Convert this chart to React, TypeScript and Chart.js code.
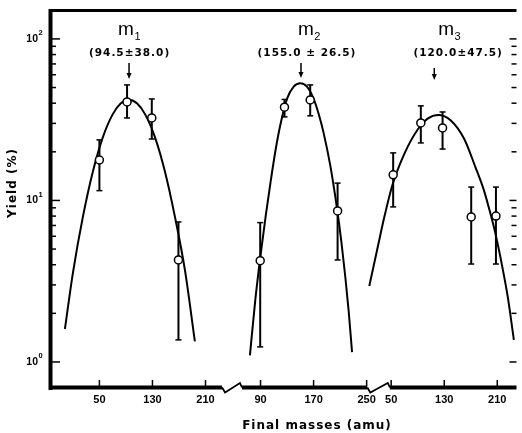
import React, { useEffect, useRef } from "react";
import { Chart, registerables } from "chart.js";

Chart.register(...registerables);

// ---- Broken x axis: three panels placed side by side on one linear scale ----
const panelOffsets = [0, 203, 440];
const panelTickMasses = [
  [50, 130, 210],
  [90, 170, 250],
  [50, 130, 210],
];
const panelAxisRanges = [
  [-100, 235],
  [62, 251],
  [48, 400],
];

// ---- y axis (log) ----
const yMin = 0.69;
const yMax = 151;
const yMajorTicks = [1, 10, 100];
const yMajorExponents = ["0", "1", "2"];
const yMinorTicks = [2, 3, 4, 5, 6, 7, 8, 9, 20, 30, 40, 50, 60, 70, 80, 90];

// ---- Measured yields (mass in amu, yield in %) ----
const m1Mass = [50, 91.7, 129, 169.2];
const m1Yield = [17.8, 40.7, 32.4, 4.28];
const m1Low = [11.5, 32.4, 24.0, 1.37];
const m1High = [23.7, 51.9, 42.5, 7.36];

const m2Mass = [89.5, 126.1, 164.9, 206.2];
const m2Yield = [4.24, 37.8, 41.9, 8.61];
const m2Low = [1.24, 32.9, 33.4, 4.28];
const m2High = [7.29, 42.2, 51.9, 12.8];

const m3Mass = [53, 94.7, 127.5, 170.7, 208];
const m3Yield = [14.4, 30.2, 28.1, 7.9, 8.0];
const m3Low = [9.12, 22.7, 20.8, 4.04, 4.04];
const m3High = [19.7, 38.5, 35.3, 12.1, 12.1];

// ---- Fitted curves ----
const fit1Mass = [-2, 10, 25, 40, 55, 70, 82, 94.5, 107, 119, 134, 149, 164, 179, 194];
const fit1Yield = [1.6, 3.55, 7.88, 15.0, 24.5, 34.1, 39.8, 42, 39.8, 34.1, 24.5, 15.0, 7.88, 3.7, 1.34];

const fit2Mass = [74, 82, 90, 98, 105, 113, 120, 130, 140, 150, 160, 170, 178, 185, 195, 205, 212, 218, 223, 228];
const fit2Yield = [1.1, 2.4, 4.57, 8.13, 12.9, 20.9, 29.5, 42.7, 50.7, 53.2, 50.7, 42.7, 33.9, 26.3, 16.6, 9.12, 5.5, 3.31, 2.04, 1.15];

const fit3Mass = [17, 30, 40, 52, 70, 90, 105, 121, 140, 160, 177, 190, 200, 207, 215, 226, 235];
const fit3Yield = [2.95, 5.2, 8.0, 12.5, 19.5, 27.5, 32.1, 33.8, 31.3, 24.1, 16.1, 11.5, 8.2, 6.3, 4.4, 2.5, 1.37];

// ---- Annotation texts ----
const fitSubscripts = ["1", "2", "3"];
const fitTexts = ["(94.5\u00b138.0)", "(155.0 \u00b1 26.5)", "(120.0\u00b147.5)"];
const xTitle = "Final masses (amu)";
const yTitle = "Yield (%)";

// annotation layout (mass within each panel, pixel rows)
const annotationLayout = {
  labelMass: [94.7, 163, 137.6],
  textMass: [95.5, 160, 151],
  arrowMass: [94.7, 151, 115],
  arrowTop: [63, 63, 68],
  arrowBottom: [79, 78, 80],
};

const xTickValues = panelTickMasses.flatMap((t, p) => t.map((m) => m + panelOffsets[p]));
const xTickLabels = panelTickMasses.flatMap((t) => t.map((m) => String(m)));

const pointSets = [
  { panel: 0, mass: m1Mass, y: m1Yield, low: m1Low, high: m1High },
  { panel: 1, mass: m2Mass, y: m2Yield, low: m2Low, high: m2High },
  { panel: 2, mass: m3Mass, y: m3Yield, low: m3Low, high: m3High },
];
const fitSets = [
  { panel: 0, mass: fit1Mass, y: fit1Yield },
  { panel: 1, mass: fit2Mass, y: fit2Yield },
  { panel: 2, mass: fit3Mass, y: fit3Yield },
];

function line(ctx: CanvasRenderingContext2D, x1: number, y1: number, x2: number, y2: number) {
  ctx.beginPath();
  ctx.moveTo(x1, y1);
  ctx.lineTo(x2, y2);
  ctx.stroke();
}

const decorPlugin = {
  id: "decor",
  beforeDatasetsDraw(chart: any) {
    const ctx: CanvasRenderingContext2D = chart.ctx;
    const xs = chart.scales.x;
    const ys = chart.scales.y;
    ctx.save();
    ctx.strokeStyle = "#000";
    pointSets.forEach((s) => {
      s.mass.forEach((m, i) => {
        const px = xs.getPixelForValue(m + panelOffsets[s.panel]);
        const pLo = ys.getPixelForValue(s.low[i]);
        const pHi = ys.getPixelForValue(s.high[i]);
        ctx.lineWidth = 2;
        line(ctx, px, pLo, px, pHi);
        ctx.lineWidth = 1.5;
        line(ctx, px - 3, pLo, px + 3, pLo);
        line(ctx, px - 3, pHi, px + 3, pHi);
      });
    });
    ctx.restore();
  },
  afterDraw(chart: any) {
    const ctx: CanvasRenderingContext2D = chart.ctx;
    const { left, right, top, bottom } = chart.chartArea;
    const xs = chart.scales.x;
    const ys = chart.scales.y;
    ctx.save();
    ctx.strokeStyle = "#000";
    ctx.fillStyle = "#000";
    ctx.lineCap = "butt";

    // frame
    ctx.lineWidth = 4;
    line(ctx, left + 0.5, top - 1, left + 0.5, bottom + 2);
    ctx.lineWidth = 3;
    line(ctx, left, top + 0.5, right, top + 0.5);

    // bottom axis segments with breaks
    const seg = panelAxisRanges.map(([a, b], p) => [
      Math.max(left, xs.getPixelForValue(a + panelOffsets[p])),
      Math.min(right, xs.getPixelForValue(b + panelOffsets[p])),
    ]);
    ctx.lineWidth = 4;
    seg.forEach(([a, b]) => line(ctx, a, bottom - 0.5, b, bottom - 0.5));
    ctx.lineWidth = 1.8;
    for (let i = 0; i < seg.length - 1; i++) {
      const e = seg[i][1];
      const s = seg[i + 1][0];
      ctx.beginPath();
      ctx.moveTo(e, bottom - 0.5);
      ctx.lineTo(e + 3, bottom + 4.5);
      ctx.lineTo(s - 2, bottom - 5);
      ctx.lineTo(s, bottom - 0.5);
      ctx.stroke();
    }

    // x ticks (inward)
    ctx.lineWidth = 1.5;
    xTickValues.forEach((v) => {
      const px = xs.getPixelForValue(v);
      line(ctx, px, bottom - 2, px, bottom - 8);
    });

    // y ticks (inward, both sides)
    yMajorTicks.forEach((v) => {
      const py = ys.getPixelForValue(v);
      line(ctx, left + 2, py, left + 10, py);
      line(ctx, right, py, right - 7, py);
    });
    yMinorTicks.forEach((v) => {
      const py = ys.getPixelForValue(v);
      line(ctx, left + 2, py, left + 6, py);
      line(ctx, right, py, right - 5, py);
    });

    // y tick labels 10^n
    yMajorTicks.forEach((v, i) => {
      const py = ys.getPixelForValue(v);
      ctx.font = 'bold 10.5px "Liberation Sans"';
      ctx.textAlign = "right";
      ctx.textBaseline = "middle";
      ctx.fillText("10", 38, py);
      ctx.font = 'bold 7.5px "Liberation Sans"';
      ctx.textAlign = "left";
      ctx.textBaseline = "alphabetic";
      ctx.fillText(yMajorExponents[i], 38.5, py - 3.5);
    });

    // axis titles
    (ctx as any).letterSpacing = "1px";
    ctx.font = 'bold 12px "DejaVu Sans"';
    ctx.textAlign = "center";
    ctx.textBaseline = "middle";
    ctx.fillText(xTitle, 317, 426);
    ctx.save();
    ctx.translate(13, 183);
    ctx.rotate(-Math.PI / 2);
    ctx.fillText(yTitle, 0, 0);
    ctx.restore();

    // fit annotations
    fitSubscripts.forEach((sub, p) => {
      const off = panelOffsets[p];
      const cx = xs.getPixelForValue(annotationLayout.labelMass[p] + off);
      (ctx as any).letterSpacing = "0px";
      ctx.font = '19px "Liberation Sans"';
      const wm = ctx.measureText("m").width;
      ctx.font = '11px "Liberation Sans"';
      const ws = ctx.measureText(sub).width;
      const x0 = cx - (wm + ws) / 2;
      ctx.textAlign = "left";
      ctx.textBaseline = "alphabetic";
      ctx.font = '19px "Liberation Sans"';
      ctx.fillText("m", x0, 35);
      ctx.font = '11px "Liberation Sans"';
      ctx.fillText(sub, x0 + wm + 0.5, 39.5);

      const tx = xs.getPixelForValue(annotationLayout.textMass[p] + off);
      (ctx as any).letterSpacing = "1px";
      ctx.font = 'bold 10.5px "DejaVu Sans"';
      ctx.textAlign = "center";
      ctx.textBaseline = "middle";
      ctx.fillText(fitTexts[p], tx, 53);
      (ctx as any).letterSpacing = "0px";

      const ax = xs.getPixelForValue(annotationLayout.arrowMass[p] + off);
      const y0 = annotationLayout.arrowTop[p];
      const y1 = annotationLayout.arrowBottom[p];
      ctx.lineWidth = 1.5;
      line(ctx, ax, y0, ax, y1 - 5);
      ctx.beginPath();
      ctx.moveTo(ax - 2.5, y1 - 6);
      ctx.lineTo(ax + 2.5, y1 - 6);
      ctx.lineTo(ax, y1);
      ctx.closePath();
      ctx.fill();
    });

    ctx.restore();
  },
};

export default function App() {
  const canvasRef = useRef<HTMLCanvasElement | null>(null);

  useEffect(() => {
    document.body.style.margin = "0";
    const canvas = canvasRef.current;
    if (!canvas) return;

    const pointDatasets = pointSets.map((s) => ({
      data: s.mass.map((m, i) => ({ x: m + panelOffsets[s.panel], y: s.y[i] })),
      showLine: false,
      pointRadius: 4,
      pointBackgroundColor: "#ffffff",
      pointBorderColor: "#000000",
      pointBorderWidth: 1.5,
      order: 0,
    }));
    const fitDatasets = fitSets.map((s) => ({
      data: s.mass.map((m, i) => ({ x: m + panelOffsets[s.panel], y: s.y[i] })),
      showLine: true,
      borderColor: "#000000",
      borderWidth: 2,
      pointRadius: 0,
      fill: false,
      cubicInterpolationMode: "monotone" as const,
      order: 1,
    }));

    const chart = new Chart(canvas, {
      type: "line",
      data: { datasets: [...pointDatasets, ...fitDatasets] as any },
      options: {
        animation: false,
        responsive: true,
        maintainAspectRatio: false,
        events: [],
        layout: { padding: { top: 10, left: 0, right: 0, bottom: 0 } },
        plugins: { legend: { display: false }, tooltip: { enabled: false } },
        scales: {
          x: {
            type: "linear",
            min: -24.5,
            max: 679,
            grid: { display: false, drawTicks: false },
            border: { display: false },
            afterBuildTicks: (scale: any) => {
              scale.ticks = xTickValues.map((v) => ({ value: v }));
            },
            afterFit: (scale: any) => {
              scale.height = 45;
            },
            ticks: {
              autoSkip: false,
              maxRotation: 0,
              padding: 5,
              color: "#000",
              font: { family: "Liberation Sans", size: 11, weight: "bold" },
              callback: (_v: any, i: number) => xTickLabels[i],
            },
          },
          y: {
            type: "logarithmic",
            min: yMin,
            max: yMax,
            grid: { display: false, drawTicks: false },
            border: { display: false },
            ticks: { display: false },
            afterFit: (scale: any) => {
              scale.width = 50;
            },
          },
        },
      },
      plugins: [decorPlugin],
    });

    return () => chart.destroy();
  }, []);

  return (
    <div style={{ width: 522, height: 433, position: "relative", background: "#fff" }}>
      <canvas ref={canvasRef} />
    </div>
  );
}
